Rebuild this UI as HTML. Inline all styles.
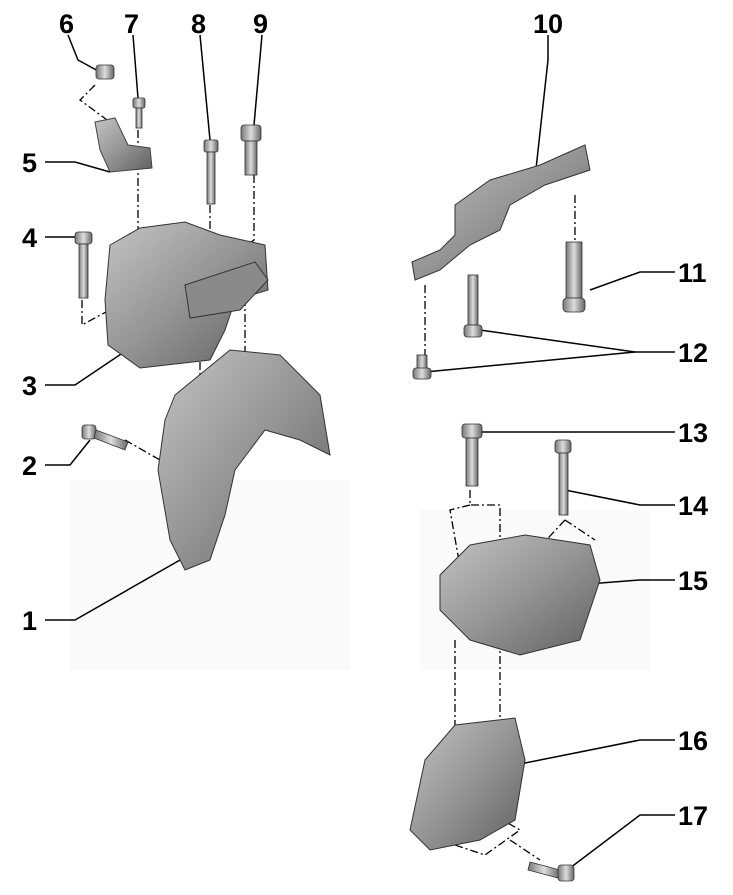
<!DOCTYPE html>
<html><head><meta charset="utf-8"><style>
html,body{margin:0;padding:0;background:#fff;}
svg{display:block;}
text{font-family:"Liberation Sans",Arial,sans-serif;font-weight:bold;font-size:27px;fill:#000;}
</style></head><body>
<svg width="733" height="895" viewBox="0 0 733 895" xmlns="http://www.w3.org/2000/svg">
<defs>
<linearGradient id="g" x1="0" y1="0" x2="1" y2="1">
<stop offset="0" stop-color="#c4c4c4"/><stop offset="0.5" stop-color="#959595"/><stop offset="1" stop-color="#606060"/>
</linearGradient>
<linearGradient id="b" x1="0" y1="0" x2="1" y2="0">
<stop offset="0" stop-color="#777"/><stop offset="0.5" stop-color="#ddd"/><stop offset="1" stop-color="#666"/>
</linearGradient>
</defs>
<rect x="70" y="480" width="280" height="190" fill="#fafafa"/>
<rect x="420" y="510" width="230" height="160" fill="#fafafa"/>

<g stroke="#000" stroke-width="1.5" fill="none">
<polyline points="68,35 78,60 100,72"/>
<line x1="133" y1="35" x2="138" y2="98"/>
<line x1="200" y1="35" x2="210" y2="140"/>
<line x1="262" y1="35" x2="254" y2="125"/>
<polyline points="548,35 548,60 535,178"/>
<polyline points="45,162 75,162 110,172"/>
<polyline points="45,237 70,237 82,237"/>
<polyline points="675,272 640,272 590,290"/>
<polyline points="675,352 635,352 480,330"/>
<line x1="635" y1="352" x2="425" y2="372"/>
<polyline points="45,385 75,385 130,348"/>
<polyline points="45,465 70,465 90,440"/>
<polyline points="675,432 640,432 475,432"/>
<polyline points="675,505 640,505 565,490"/>
<polyline points="675,580 640,580 575,585"/>
<polyline points="45,620 75,620 180,560"/>
<polyline points="675,740 640,740 515,765"/>
<polyline points="675,815 640,815 570,868"/>
</g>
<g stroke="#000" stroke-width="1.3" fill="none" stroke-dasharray="8,3,2,3">
<polyline points="95,85 80,100 118,128"/>
<line x1="138" y1="130" x2="138" y2="235"/>
<line x1="210" y1="205" x2="210" y2="255"/>
<polyline points="254,175 254,240 200,280"/>
<line x1="245" y1="250" x2="245" y2="360"/>
<line x1="200" y1="330" x2="200" y2="400"/>
<polyline points="82,300 82,325 128,300 128,330"/>
<line x1="125" y1="440" x2="160" y2="460"/>
<line x1="470" y1="195" x2="470" y2="210"/>
<line x1="575" y1="195" x2="575" y2="240"/>
<line x1="425" y1="285" x2="425" y2="355"/>
<polyline points="470,490 470,505 500,505 500,545"/>
<polyline points="470,505 450,510 465,595 470,600"/>
<polyline points="565,520 595,540"/>
<polyline points="565,520 490,600"/>
<line x1="455" y1="640" x2="455" y2="730"/>
<line x1="500" y1="640" x2="500" y2="720"/>
<polyline points="440,840 485,855 520,830 485,810"/>
<line x1="510" y1="840" x2="540" y2="860"/>
</g>

<path d="M95,122 L115,118 L128,145 L150,148 L152,168 L110,172 L100,150 Z" fill="url(#g)" stroke="#444"/>
<path d="M110,245 L140,228 L185,222 L220,235 L265,245 L268,290 L235,300 L225,330 L210,360 L140,368 L108,345 L105,300 Z" fill="url(#g)" stroke="#333"/>
<path d="M185,285 L255,262 L268,280 L240,310 L190,318 Z" fill="#8a8a8a" stroke="#333"/>
<path d="M175,395 L230,350 L280,355 L320,395 L330,455 L300,440 L265,430 L235,470 L225,515 L210,560 L185,570 L170,540 L158,470 L165,420 Z" fill="url(#g)" stroke="#333"/>
<path d="M412,262 L440,250 L455,235 L455,205 L490,180 L540,165 L585,145 L590,170 L545,185 L510,205 L500,230 L470,245 L440,270 L415,280 Z" fill="url(#g)" stroke="#333"/>
<path d="M440,575 L470,545 L525,535 L590,545 L600,580 L580,640 L520,655 L470,640 L440,610 Z" fill="url(#g)" stroke="#333"/>
<path d="M425,760 L455,725 L515,718 L525,760 L515,820 L480,840 L430,850 L410,830 Z" fill="url(#g)" stroke="#333"/>

<g fill="url(#b)" stroke="#333" stroke-width="0.8">
<rect x="96" y="65" width="18" height="14" rx="3"/>
<rect x="133" y="98" width="12" height="10" rx="2"/><rect x="136" y="108" width="6" height="20"/>
<rect x="204" y="140" width="14" height="12" rx="2"/><rect x="207" y="152" width="8" height="52"/>
<rect x="241" y="125" width="20" height="16" rx="3"/><rect x="245" y="141" width="12" height="34"/>
<rect x="75" y="232" width="17" height="12" rx="3"/><rect x="79" y="244" width="9" height="54"/>
<rect x="82" y="425" width="14" height="14" rx="3"/><path d="M96,430 L128,442 L125,450 L94,438 Z"/>
<rect x="566" y="242" width="16" height="56"/><rect x="563" y="298" width="22" height="14" rx="4"/>
<rect x="468" y="275" width="10" height="50"/><rect x="464" y="325" width="18" height="12" rx="3"/>
<rect x="417" y="355" width="10" height="14"/><rect x="413" y="368" width="18" height="11" rx="3"/>
<rect x="462" y="424" width="20" height="14" rx="3"/><rect x="466" y="438" width="12" height="48"/>
<rect x="555" y="440" width="16" height="13" rx="3"/><rect x="559" y="453" width="9" height="62"/>
<path d="M530,862 L560,870 L558,878 L528,870 Z"/><rect x="558" y="865" width="16" height="16" rx="3"/>
</g>

<text x="59" y="33">6</text>
<text x="124" y="33">7</text>
<text x="191" y="33">8</text>
<text x="253" y="33">9</text>
<text x="533" y="33">10</text>
<text x="22" y="172">5</text>
<text x="22" y="247">4</text>
<text x="678" y="282">11</text>
<text x="678" y="362">12</text>
<text x="22" y="395">3</text>
<text x="22" y="475">2</text>
<text x="678" y="442">13</text>
<text x="678" y="515">14</text>
<text x="678" y="590">15</text>
<text x="22" y="630">1</text>
<text x="678" y="750">16</text>
<text x="678" y="825">17</text>
</svg>
</body></html>
